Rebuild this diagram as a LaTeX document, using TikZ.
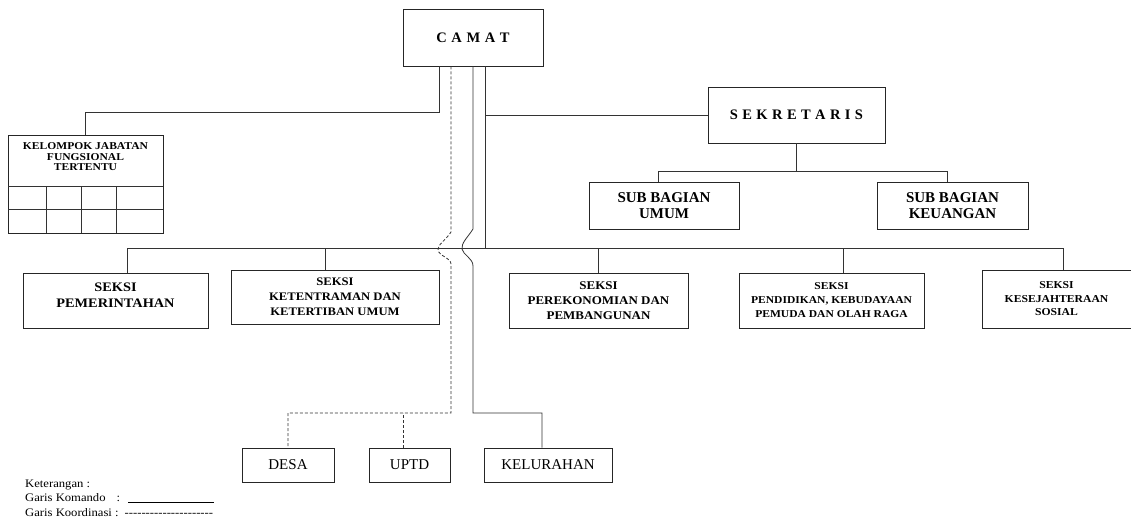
\documentclass[tikz,border=0pt]{standalone}
\usepackage{fontspec}
\setmainfont{Liberation Serif}
\newfontfamily\widefam[FakeStretch=1.1]{Liberation Serif}
\newcommand\boxfont[2]{\widefam\bfseries\fontsize{#1}{#2}\selectfont}
\newcommand\hyph{\mbox{-}}
\begin{document}
\begin{tikzpicture}[x=1pt,y=-1pt,
  box/.style={draw=black!85, line width=0.9pt, rectangle, inner sep=0pt, align=center, text=black},
  cmd/.style={draw=black!80, line width=0.8pt},
  crd/.style={draw=black!80, line width=0.8pt, dash pattern=on 3pt off 2pt},
  title/.style={font=\bfseries\fontsize{14.5}{16}\selectfont},
  big/.style={font=\fontsize{15}{17}\selectfont},
  bigb/.style={font=\bfseries\fontsize{15}{16}\selectfont},
  legend/.style={anchor=base west, inner sep=0pt, font=\widefam\fontsize{11.5}{14}\selectfont}
]
\useasboundingbox (0,0) rectangle (1131,520);
\clip (0,0) rectangle (1131,520);

% top level
\node[box, title, minimum width=140pt, minimum height=57pt] (camat) at (473,37.5)
  {C\hspace{4.6pt}A\hspace{4.6pt}M\hspace{4.6pt}A\hspace{4.6pt}T};
\node[box, title, minimum width=177pt, minimum height=56pt] (sek) at (796.5,115)
  {S\hspace{4.4pt}E\hspace{4.4pt}K\hspace{4.4pt}R\hspace{4.4pt}E\hspace{4.4pt}T\hspace{4.4pt}A\hspace{4.4pt}R\hspace{4.4pt}I\hspace{4.4pt}S};

% functional group with its table
\node[box, minimum width=155pt, minimum height=98pt] (kjft) at (85.5,184) {};
\node[align=center, inner sep=0pt, font=\boxfont{10.5}{10.5}] (kjftT) at (85.5,157)
  {KELOMPOK JABATAN\\FUNGSIONAL\\TERTENTU};
\draw[cmd] (8,186) -- (163,186) (8,209) -- (163,209);
\draw[cmd] (46,186) -- (46,233) (81,186) -- (81,233) (116,186) -- (116,233);

% sub sections of the secretary
\node[box, bigb, minimum width=150pt, minimum height=47pt] (umum) at (664,205.5) {SUB BAGIAN\\UMUM};
\node[box, bigb, minimum width=151pt, minimum height=47pt] (keu) at (952.5,205.5) {SUB BAGIAN\\KEUANGAN};

% sections
\node[box, minimum width=185pt, minimum height=55pt] (pem) at (115.5,300.5) {};
\node[align=center, inner sep=0pt, font=\boxfont{13}{16}] (pemT) at (115.5,295) {SEKSI\\PEMERINTAHAN};
\node[box, font=\boxfont{11.5}{15}, minimum width=208pt, minimum height=54pt] (ket) at (335,297)
  {SEKSI\\KETENTRAMAN DAN\\KETERTIBAN UMUM};
\node[box, font=\boxfont{11.8}{15}, minimum width=179pt, minimum height=55pt] (per) at (598.5,300.5)
  {SEKSI\\PEREKONOMIAN DAN\\PEMBANGUNAN};
\node[box, font=\boxfont{10.5}{14}, minimum width=185pt, minimum height=55pt] (pen) at (831.5,300.5)
  {SEKSI\\PENDIDIKAN, KEBUDAYAAN\\PEMUDA DAN OLAH RAGA};
\node[box, font=\boxfont{10.6}{13.5}, minimum width=149pt, minimum height=58pt] (kes) at (1056.5,299)
  {SEKSI\\KESEJAHTERAAN\\SOSIAL};

% bottom units
\node[box, big, minimum width=92pt, minimum height=34pt] (desa) at (288,465) {DESA};
\node[box, big, minimum width=81pt, minimum height=34pt] (uptd) at (409.5,465) {UPTD};
\node[box, big, minimum width=128pt, minimum height=34pt] (kel) at (548,465) {KELURAHAN};

% command lines
\draw[cmd] ([xshift=-34pt]camat.south) |- (kjft.north |- 0,112) -- (kjft.north);
\draw[cmd] ([xshift=12pt]camat.south) -- ([xshift=12pt]camat.south |- 0,249);
\draw[cmd] ([xshift=12pt]camat.south |- sek.west) -- (sek.west);
\draw[cmd] (sek.south) -- ++(0,28) coordinate (sekj);
\draw[cmd] ([xshift=-6pt]umum.north) |- (sekj) -| ([xshift=-5.5pt]keu.north);
\draw[cmd] ([xshift=11.5pt]pem.north) -- ++(0,-24) -| ([xshift=6.5pt]kes.north);
\draw[cmd] ([xshift=-10pt]ket.north) -- ++(0,-21);
\draw[cmd] (per.north) -- ++(0,-24);
\draw[cmd] ([xshift=11.5pt]pen.north) -- ++(0,-24);
\draw[cmd] (camat.south) -- (473,229)
  .. controls (468,237) and (461,243) .. (462,249)
  .. controls (463,255) and (473,258) .. (473,266)
  |- ([xshift=-6pt]kel.north |- 0,413) -- ([xshift=-6pt]kel.north);

% coordination lines
\draw[crd] ([xshift=-22pt]camat.south) -- (451,232)
  .. controls (446,240) and (437,245) .. (438,250)
  .. controls (439,256) and (451,258) .. (451,264)
  -- (451,413) -| (desa.north);
\draw[crd] ([xshift=-6.5pt]uptd.north) -- ++(0,-35);

% legend
\node[legend] (ket0) at (25,487) {Keterangan :};
\node[legend] (ket1) at (25,501) {Garis Komando\hspace{11pt}:\hspace{8pt}\rule[-2pt]{86pt}{0.6pt}};
\node[legend] (ket2) at (25,516) {Garis Koordinasi :\hspace{6pt}\hyph\hyph\hyph\hyph\hyph\hyph\hyph\hyph\hyph\hyph\hyph\hyph\hyph\hyph\hyph\hyph\hyph\hyph\hyph\hyph\hyph};
\end{tikzpicture}
\end{document}
